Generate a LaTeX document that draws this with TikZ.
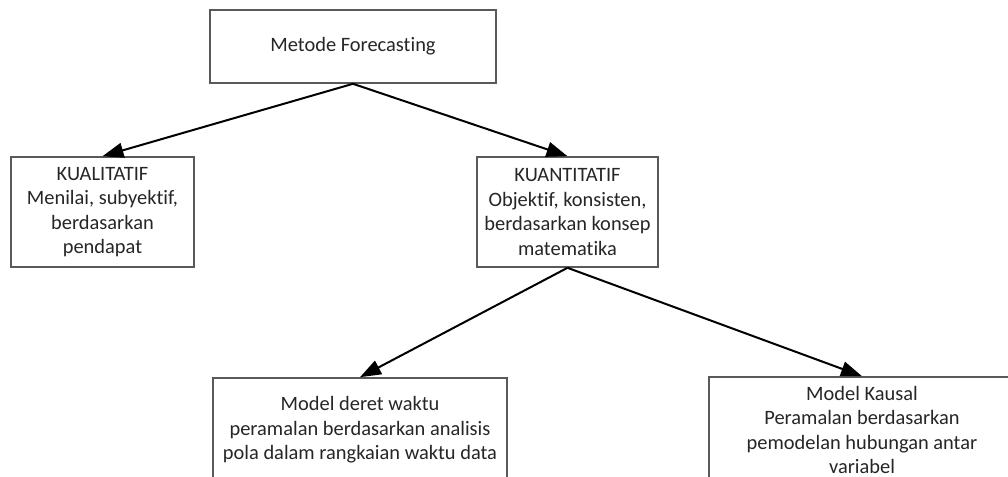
\documentclass[tikz,border=0pt]{standalone}
\usepackage{fontspec}
\setmainfont[Ligatures=NoCommon]{Carlito}
\usetikzlibrary{arrows.meta}
\begin{document}
\begin{tikzpicture}[x=1bp,y=-1bp,
  box/.style={draw=black!65,line width=1.6bp,fill=white,align=center,inner sep=0pt,
    font=\fontsize{20.5}{24.5}\selectfont,text=black!85},
  conn/.style={line width=2bp,-{Triangle[length=21bp,width=15bp]}}]
\useasboundingbox (0,0) rectangle (1008,477);
\clip (0,0) rectangle (1008,477);
\node[box,minimum width=286bp,minimum height=73bp] (top) at (353,46.5) {Metode Forecasting};
\node[box,minimum width=183bp,minimum height=110bp] (kual) at (102.5,212) {KUALITATIF\\Menilai, subyektif,\\berdasarkan\\pendapat};
\node[box,minimum width=181bp,minimum height=110bp] (kuan) at (567.5,212) {KUANTITATIF\\Objektif, konsisten,\\berdasarkan konsep\\matematika};
\node[box,minimum width=294bp,minimum height=104bp] (bl) at (360,430) {Model deret waktu\\peramalan berdasarkan analisis\\pola dalam rangkaian waktu data};
\node[box,minimum width=306bp,minimum height=106bp] (br) at (862,430) {Model Kausal\\Peramalan berdasarkan\\pemodelan hubungan antar\\variabel};
\draw[conn] (top.south) -- (kual.north);
\draw[conn] (top.south) -- (kuan.north);
\draw[conn] (kuan.south) -- (bl.north);
\draw[conn] (kuan.south) -- (br.north);
\end{tikzpicture}
\end{document}
